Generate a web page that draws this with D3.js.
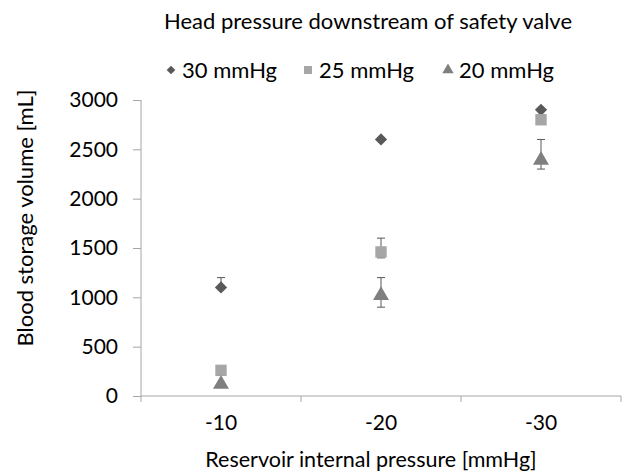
<!DOCTYPE html>
<html><head><meta charset="utf-8">
<script src="https://cdn.jsdelivr.net/npm/d3@7"></script>
<style>body{margin:0;background:#fff}svg{display:block}text{font-family:Lato,"Open Sans",sans-serif;fill:#000}</style>
</head><body><svg id="c" width="638" height="476"></svg>
<script>
const categories = ["-10", "-20", "-30"];
const seriesNames = ["30 mmHg", "25 mmHg", "20 mmHg"];
const values30 = [1100, 2600, 2900];
const values25 = [260, 1460, 2800];
const values20 = [130, 1030, 2400];
const errLow30 = [1100, 2600, 2900];
const errHigh30 = [1200, 2600, 2900];
const errLow25 = [260, 1400, 2800];
const errHigh25 = [260, 1600, 2800];
const errLow20 = [130, 900, 2300];
const errHigh20 = [130, 1200, 2600];
const yTicks = [0, 500, 1000, 1500, 2000, 2500, 3000];
const titleText = "Head pressure downstream of safety valve";
const xTitle = "Reservoir internal pressure [mmHg]";
const yTitle = "Blood storage volume [mL]";

const series = [
  {name: seriesNames[0], vals: values30, lo: errLow30, hi: errHigh30, shape: "diamond", color: "#595959", size: 75},
  {name: seriesNames[1], vals: values25, lo: errLow25, hi: errHigh25, shape: "square", color: "#a6a6a6", size: 130},
  {name: seriesNames[2], vals: values20, lo: errLow20, hi: errHigh20, shape: "triangle", color: "#7f7f7f", size: 110}
];
const symType = {diamond: d3.symbolSquare, square: d3.symbolSquare, triangle: d3.symbolTriangle};
const rot = s => s === "diamond" ? " rotate(45)" : "";

const svg = d3.select("#c");
const x = d3.scaleBand().domain(categories).range([141, 621]);
const y = d3.scaleLinear().domain([0, 3000]).range([396, 100]);

// y axis
const ya = svg.append("g").attr("transform", "translate(141,0)")
  .call(d3.axisLeft(y).tickValues(yTicks).tickSize(8).tickPadding(15).tickFormat(d3.format("d")));
ya.selectAll("path,line").attr("stroke", "#a6a6a6");
ya.selectAll("text").style("font-size", "21px").style("font-family", "Lato").attr("fill", "#000");
ya.select(".domain").attr("d", "M0,100V396");

// x axis
const xa = svg.append("g").attr("transform", "translate(0,396)");
xa.append("line").attr("x1", 141).attr("x2", 621).attr("stroke", "#a6a6a6");
const bounds = [0, 1, 2, 3].map(i => i < 3 ? x(categories[i]) : x(categories[2]) + x.bandwidth());
xa.selectAll(".tk").data(bounds).join("line").attr("class", "tk")
  .attr("x1", d => d).attr("x2", d => d).attr("y1", 0).attr("y2", 6).attr("stroke", "#a6a6a6");
xa.selectAll(".lb").data(categories).join("text").attr("class", "lb")
  .attr("x", d => x(d) + x.bandwidth() / 2).attr("y", 34).attr("text-anchor", "middle")
  .style("font-size", "21px").text(d => d);

// error bars and markers
series.forEach(s => {
  const g = svg.append("g");
  categories.forEach((c, i) => {
    const cx = x(c) + x.bandwidth() / 2;
    if (s.hi[i] !== s.lo[i]) {
      g.append("line").attr("x1", cx).attr("x2", cx).attr("y1", y(s.hi[i])).attr("y2", y(s.lo[i])).attr("stroke", "#595959").attr("stroke-width", 1);
      [s.hi[i], s.lo[i]].forEach(v => {
        if (v !== s.vals[i]) g.append("line").attr("x1", cx - 4).attr("x2", cx + 4).attr("y1", y(v)).attr("y2", y(v)).attr("stroke", "#595959").attr("stroke-width", 1);
      });
    }
  });
  g.selectAll("path.m").data(s.vals).join("path").attr("class", "m")
    .attr("d", d3.symbol().type(symType[s.shape]).size(s.size))
    .attr("transform", (d, i) => `translate(${x(categories[i]) + x.bandwidth() / 2},${y(d) + (s.shape === "triangle" ? 1 : 0)})${rot(s.shape)}`)
    .attr("fill", s.color);
});

// title
svg.append("text").attr("x", 368).attr("y", 29).attr("text-anchor", "middle").style("font-size", "22px").text(titleText);

// legend
const legX = [171, 308, 448];
series.forEach((s, i) => {
  svg.append("path").attr("d", d3.symbol().type(symType[s.shape]).size(s.size * 0.5))
    .attr("transform", `translate(${legX[i]},70)${rot(s.shape)}`).attr("fill", s.color);
  svg.append("text").attr("x", legX[i] + 11).attr("y", 78).style("font-size", "22px").text(s.name);
});

// axis titles
svg.append("text").attr("x", 371).attr("y", 467).attr("text-anchor", "middle").style("font-size", "21.5px").text(xTitle);
svg.append("text").attr("transform", "translate(33,218) rotate(-90)").attr("text-anchor", "middle").style("font-size", "22px").text(yTitle);
</script></body></html>
